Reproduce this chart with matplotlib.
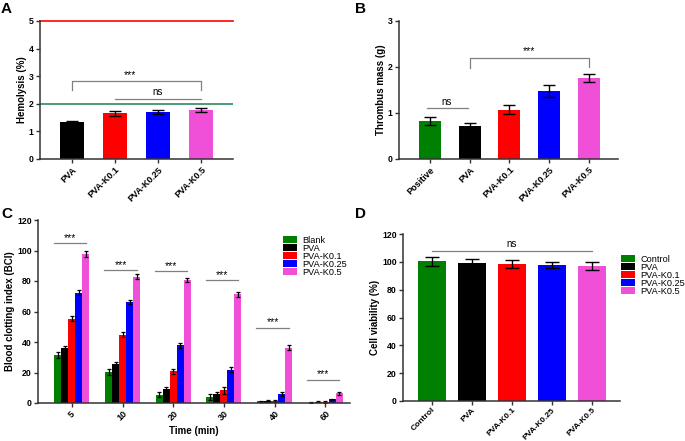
import numpy as np
import matplotlib.pyplot as plt

plt.rcParams['font.family'] = ['Liberation Sans', 'DejaVu Sans']

green = '#008000'
pink = '#f050d8'
colors5 = [green, 'black', 'red', 'blue', pink]

# A - hemolysis
a_labels = ['PVA', 'PVA-K0.1', 'PVA-K0.25', 'PVA-K0.5']
a_vals = [1.33, 1.65, 1.71, 1.78]
a_err = [0.03, 0.08, 0.07, 0.07]

# B - thrombus mass
b_labels = ['Positive', 'PVA', 'PVA-K0.1', 'PVA-K0.25', 'PVA-K0.5']
b_vals = [0.83, 0.72, 1.07, 1.48, 1.76]
b_err = [0.09, 0.07, 0.10, 0.13, 0.09]

# C - blood clotting index
c_times = ['5', '10', '20', '30', '40', '60']
c_series = ['Blank', 'PVA', 'PVA-K0.1', 'PVA-K0.25', 'PVA-K0.5']
c_blank = [31.5, 20.2, 5.3, 3.8, 1.1, 0.2]
c_pva = [36.2, 25.4, 9.3, 6.0, 1.2, 0.9]
c_k01 = [55.3, 44.8, 20.8, 8.2, 1.2, 0.9]
c_k025 = [72.4, 66.1, 37.8, 21.9, 5.9, 2.4]
c_k05 = [97.5, 82.8, 80.6, 71.2, 36.3, 6.3]
c_err_blank = [1.8, 1.8, 1.6, 2.0, 0.5, 0.3]
c_err_pva = [1.5, 1.3, 1.3, 1.5, 0.6, 0.4]
c_err_k01 = [1.8, 1.7, 1.5, 2.0, 0.7, 0.6]
c_err_k025 = [1.5, 1.5, 1.5, 1.5, 1.0, 0.5]
c_err_k05 = [2.0, 1.8, 1.5, 1.5, 1.5, 1.2]
c_sig_y = [104.7, 87.1, 86.5, 80.4, 49.3, 15.3]

# D - cell viability
d_labels = ['Control', 'PVA', 'PVA-K0.1', 'PVA-K0.25', 'PVA-K0.5']
d_vals = [100.3, 98.9, 98.4, 97.9, 97.0]
d_err = [3.0, 2.9, 2.6, 2.0, 2.9]

fig = plt.figure(figsize=(6.85, 4.41), dpi=100)

def fig_ax(l, t, r, b):
    W, H = 685.0, 441.0
    return fig.add_axes([l / W, 1 - b / H, (r - l) / W, (b - t) / H])

def style(ax):
    for s in ['top', 'right']:
        ax.spines[s].set_visible(False)
    for s in ['left', 'bottom']:
        ax.spines[s].set_color('#333333')
        ax.spines[s].set_linewidth(1.1)
    ax.tick_params(axis='both', direction='out', length=3, width=1,
                   color='#333333', labelsize=6.3, pad=1.5)
    for lab in ax.get_yticklabels():
        lab.set_fontweight('bold')

def xlabels(ax, labels, ha='right', mode='anchor', size=6.5):
    ax.set_xticks(range(len(labels)))
    ax.set_xticklabels(labels, rotation=45, ha=ha, va='top',
                       rotation_mode=mode, fontsize=size, fontweight='bold')

def legend(ax, handles, labels, x, y):
    ax.legend(handles, labels, loc='upper left', bbox_to_anchor=(x / 685, 1 - y / 441),
              bbox_transform=fig.transFigure, frameon=False, fontsize=6.6,
              borderpad=0, labelspacing=-0.12, handlelength=1.5,
              handleheight=0.8, handletextpad=0.6, borderaxespad=0)

gray = '#808080'
ekw = dict(elinewidth=1, capthick=1, ecolor='black')

# ---- A
axA = fig_ax(40, 21, 233, 159)
x = np.arange(len(a_labels))
axA.bar(x, a_vals, width=0.55, color=colors5[1:], yerr=a_err, capsize=4, error_kw=ekw)
axA.axhline(5, color='red', lw=1.2, clip_on=False)
axA.axhline(2, color='#2a8c5a', lw=1.2)
axA.plot([0, 0, 3, 3], [2.5, 2.82, 2.82, 2.5], color=gray, lw=0.9)
axA.text(1.35, 2.86, '***', ha='center', va='bottom', fontsize=7.5)
axA.plot([1, 3], [2.19, 2.19], color=gray, lw=0.9)
axA.text(2.0, 2.24, 'ns', ha='center', va='bottom', fontsize=7)
axA.set_xlim(-0.74, 3.74)
axA.set_ylim(0, 5)
axA.set_yticks(range(6))
axA.set_ylabel('Hemolysis (%)', fontsize=7, fontweight='bold', labelpad=1.5)
style(axA)
xlabels(axA, a_labels)

# ---- B
axB = fig_ax(399, 21, 618, 159)
x = np.arange(len(b_labels))
axB.bar(x, b_vals, width=0.55, color=colors5, yerr=b_err, capsize=4, error_kw=ekw)
axB.plot([1, 1, 4, 4], [1.97, 2.2, 2.2, 2.0], color=gray, lw=0.9)
axB.text(2.5, 2.23, '***', ha='center', va='bottom', fontsize=7.5)
axB.plot([-0.08, 0.95], [1.1, 1.1], color=gray, lw=0.9)
axB.text(0.43, 1.14, 'ns', ha='center', va='bottom', fontsize=7)
axB.set_xlim(-0.78, 4.74)
axB.set_ylim(0, 3)
axB.set_yticks(range(4))
axB.set_ylabel('Thrombus mass (g)', fontsize=7, fontweight='bold', labelpad=1.5)
style(axB)
xlabels(axB, b_labels)

# ---- C
axC = fig_ax(38, 220, 350, 403)
x = np.arange(len(c_times))
c_vals = [c_blank, c_pva, c_k01, c_k025, c_k05]
c_errs = [c_err_blank, c_err_pva, c_err_k01, c_err_k025, c_err_k05]
bw = 0.138
c_bars = []
for i in range(5):
    c_bars.append(axC.bar(x + (i - 2) * bw, c_vals[i], width=bw, color=colors5[i],
                          yerr=c_errs[i], capsize=1.2,
                          error_kw=dict(elinewidth=0.9, capthick=0.9, ecolor='black')))
for xi, yi in zip(x, c_sig_y):
    axC.plot([xi - 0.36, xi + 0.28], [yi, yi], color=gray, lw=0.9)
    axC.text(xi - 0.04, yi + 0.3, '***', ha='center', va='bottom', fontsize=7.5)
axC.set_xlim(-0.67, 5.49)
axC.set_ylim(0, 120)
axC.set_yticks(range(0, 121, 20))
axC.set_ylabel('Blood clotting index (BCI)', fontsize=7, fontweight='bold', labelpad=1.5)
axC.set_xlabel('Time (min)', fontsize=7, fontweight='bold', labelpad=2)
style(axC)
xlabels(axC, c_times, ha='center', mode='default')
legend(axC, c_bars, c_series, 283, 236)

# ---- D
axD = fig_ax(403, 234, 620, 401)
x = np.arange(len(d_labels))
bars = axD.bar(x, d_vals, width=0.7, color=colors5, yerr=d_err, capsize=5, error_kw=ekw)
axD.plot([0, 4], [107.7, 107.7], color=gray, lw=0.9)
axD.text(2.0, 109, 'ns', ha='center', va='bottom', fontsize=7)
axD.set_xlim(-0.72, 4.7)
axD.set_ylim(0, 120)
axD.set_yticks(range(0, 121, 20))
axD.set_ylabel('Cell viability (%)', fontsize=7, fontweight='bold', labelpad=1.5)
style(axD)
xlabels(axD, d_labels, size=6.0)
axD.tick_params(axis='x', pad=1)
legend(axD, bars, d_labels, 621, 255)

# panel letters
for lbl, px, py in [('A', 1, 2), ('B', 355, 2), ('C', 1, 207), ('D', 355, 207)]:
    fig.text(px / 685, 1 - py / 441, lbl, fontsize=11, fontweight='bold',
             ha='left', va='top')

fig.savefig('out.png', dpi=100)
